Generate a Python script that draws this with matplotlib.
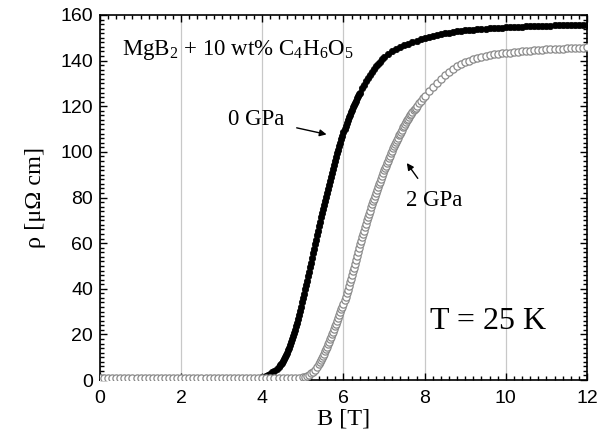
import numpy as np
import matplotlib
matplotlib.use("Agg")
import matplotlib.pyplot as plt
from matplotlib.ticker import MultipleLocator

plt.rcParams['mathtext.fontset'] = 'custom'
plt.rcParams['mathtext.rm'] = 'Liberation Serif'
plt.rcParams['mathtext.it'] = 'Liberation Serif:italic'

# data, B in T, rho in uOhm cm
# 0 GPa, read on a grid that is finer where the curve is steep
b_0gpa = np.round(np.concatenate([np.arange(0, 3.95, 0.1),
                                  np.arange(4.0, 4.36, 0.05),
                                  np.arange(4.4, 6.401, 0.025),
                                  np.arange(6.45, 7.01, 0.05),
                                  np.arange(7.1, 12.01, 0.1)]), 3)
rho_0gpa = [
    # 0.0 - 3.9
    0.8, 0.9, 0.8, 0.7, 0.8, 0.9, 0.8, 0.8, 0.7, 0.8,
    0.9, 0.8, 0.8, 0.7, 0.8, 0.9, 0.8, 0.8, 0.7, 0.8,
    0.9, 0.8, 0.8, 0.7, 0.8, 0.9, 0.8, 0.8, 0.7, 0.8,
    0.9, 0.8, 0.8, 0.7, 0.8, 0.9, 0.8, 0.8, 0.9, 1.0,
    # 4.00 - 4.35
    1.2, 1.5, 1.8, 2.2, 2.7, 3.3, 4.0, 4.8,
    # 4.400 - 6.400
    5.8, 6.4, 7.0, 7.6, 8.3, 9.1, 10.0, 11.0, 12.0, 13.1,
    14.2, 15.3, 16.5, 17.8, 19.2, 20.6, 22.0, 23.6, 25.2, 26.8,
    28.5, 30.3, 32.2, 34.1, 36.0, 37.8, 39.7, 41.6, 43.5, 45.5,
    47.5, 49.5, 51.5, 53.5, 55.5, 57.5, 59.5, 61.5, 63.5, 65.5,
    67.5, 69.4, 71.3, 73.2, 75.0, 76.8, 78.5, 80.3, 82.0, 83.8,
    85.5, 87.3, 89.0, 90.8, 92.5, 94.3, 96.0, 97.7, 99.3, 100.9,
    102.5, 104.0, 105.5, 107.0, 108.5, 109.9, 111.3, 112.7, 114.0, 115.2,
    116.3, 117.4, 118.5, 119.5, 120.5, 121.5, 122.5, 123.4, 124.3, 125.2,
    126.0,
    # 6.45 - 7.00
    127.8, 129.5, 131.0, 132.5, 133.8, 135.0, 136.3, 137.5, 138.5, 139.5,
    140.5, 141.5,
    # 7.1 - 12.0
    142.8, 144.0, 145.0, 146.0, 146.8, 147.5, 148.2, 148.8, 149.4, 150.0,
    150.4, 150.8, 151.2, 151.6, 152.0, 152.3, 152.6, 152.9, 153.1, 153.3,
    153.4, 153.5, 153.7, 153.8, 154.0, 154.1, 154.2, 154.4, 154.5, 154.6,
    154.7, 154.7, 154.8, 154.9, 155.0, 155.0, 155.1, 155.2, 155.2, 155.3,
    155.3, 155.4, 155.4, 155.5, 155.5, 155.6, 155.6, 155.6, 155.7, 155.7,
]

# 2 GPa
b_2gpa = np.round(np.concatenate([np.arange(0, 4.95, 0.1),
                                  np.arange(5.0, 5.36, 0.05),
                                  np.arange(5.4, 7.801, 0.025),
                                  np.arange(7.85, 8.01, 0.05),
                                  np.arange(8.1, 12.01, 0.1)]), 3)
rho_2gpa = [
    # 0.0 - 4.9
    0.8, 0.7, 0.8, 0.9, 0.8, 0.7, 0.8, 0.8, 0.9, 0.8,
    0.7, 0.8, 0.9, 0.8, 0.8, 0.7, 0.8, 0.9, 0.8, 0.8,
    0.7, 0.8, 0.9, 0.8, 0.8, 0.7, 0.8, 0.9, 0.8, 0.8,
    0.7, 0.8, 0.9, 0.8, 0.8, 0.7, 0.8, 0.9, 0.8, 0.8,
    0.7, 0.8, 0.9, 0.8, 0.8, 0.7, 0.8, 0.9, 0.9, 1.0,
    # 5.00 - 5.35
    1.2, 1.5, 1.8, 2.3, 2.9, 3.6, 4.5, 5.7,
    # 5.400 - 7.800
    7.0, 7.8, 8.7, 9.6, 10.5, 11.5, 12.5, 13.5, 14.5, 15.6,
    16.7, 17.8, 19.0, 20.1, 21.2, 22.3, 23.5, 24.7, 26.0, 27.2,
    28.5, 29.7, 31.0, 32.2, 33.5, 35.0, 36.5, 38.0, 39.5, 41.1,
    42.8, 44.4, 46.0, 47.6, 49.3, 50.9, 52.5, 54.2, 56.0, 57.8,
    59.5, 61.0, 62.5, 64.0, 65.5, 67.0, 68.5, 70.0, 71.5, 72.9,
    74.3, 75.7, 77.0, 78.3, 79.5, 80.8, 82.0, 83.3, 84.5, 85.8,
    87.0, 88.3, 89.5, 90.8, 92.0, 93.0, 94.0, 95.0, 96.0, 97.2,
    98.3, 99.4, 100.5, 101.5, 102.5, 103.5, 104.5, 105.4, 106.3, 107.2,
    108.0, 108.9, 109.8, 110.7, 111.5, 112.3, 113.0, 113.8, 114.5, 115.3,
    116.0, 116.8, 117.5, 118.2, 118.8, 119.4, 120.0,
    # 7.85 - 8.00
    121.3, 122.5, 123.5, 124.5,
    # 8.1 - 12.0
    126.6, 128.5, 130.3, 132.0, 133.6, 135.0, 136.3, 137.5, 138.5, 139.3,
    140.0, 140.7, 141.2, 141.7, 142.0, 142.4, 142.7, 143.0, 143.2, 143.3,
    143.5, 143.7, 143.9, 144.0, 144.2, 144.3, 144.5, 144.6, 144.8, 144.9,
    145.0, 145.1, 145.2, 145.3, 145.4, 145.5, 145.6, 145.6, 145.7, 145.8,
]
assert len(b_0gpa) == len(rho_0gpa) and len(b_2gpa) == len(rho_2gpa)

serif = 'Liberation Serif'
sans = 'Liberation Sans'

fig = plt.figure(figsize=(6.13, 4.41), dpi=100)
ax = fig.add_axes([0.1631, 0.1383, 0.7945, 0.8277])

ax.plot(b_0gpa, rho_0gpa, 'o', color='black', ms=4.6, mec='black', mew=0.5, zorder=3)
ax.plot(b_2gpa, rho_2gpa, 'o', mfc='white', mec='#8a8a8a', ms=5.2, mew=0.9, zorder=4)

ax.set_xlim(0, 12)
ax.set_ylim(0, 160)
ax.xaxis.set_major_locator(MultipleLocator(2))
ax.xaxis.set_minor_locator(MultipleLocator(0.2))
ax.yaxis.set_major_locator(MultipleLocator(20))
ax.yaxis.set_minor_locator(MultipleLocator(2))
ax.grid(axis='x', which='major', color='#c8c8c8', lw=0.9, zorder=0)

ax.tick_params(which='both', direction='in', top=True, right=True, width=1)
ax.tick_params(which='major', length=5, labelsize=14)
ax.tick_params(axis='x', which='major', pad=7)
ax.tick_params(axis='y', which='major', pad=5)
ax.tick_params(which='minor', length=3)
for lab in ax.get_xticklabels() + ax.get_yticklabels():
    lab.set_family(sans)
for s in ax.spines.values():
    s.set_linewidth(1.2)

ax.set_xlabel('B [T]', family=serif, fontsize=17.5, labelpad=1)
ax.set_ylabel('ρ [μΩ cm]', family=serif, fontsize=17.5, labelpad=10)

ax.text(0.54, 142.5, r'MgB$_2$ + 10 wt% C$_4$H$_6$O$_5$', family=serif,
        fontsize=16.5, ha='left', va='baseline')
ax.text(8.14, 22.4, 'T = 25 K', family=serif, fontsize=23, ha='left', va='baseline')

ax.annotate('', xy=(5.65, 107.4), xytext=(4.78, 110.8),
            arrowprops=dict(arrowstyle='-|>', color='black', lw=1, mutation_scale=10))
ax.text(3.16, 114, '0 GPa', family=serif, fontsize=16.5, ha='left', va='center')
ax.annotate('', xy=(7.52, 96.1), xytext=(7.87, 87.4),
            arrowprops=dict(arrowstyle='-|>', color='black', lw=1, mutation_scale=10))
ax.text(7.54, 78.9, '2 GPa', family=serif, fontsize=16.5, ha='left', va='center')

fig.savefig('out.png', dpi=100)
